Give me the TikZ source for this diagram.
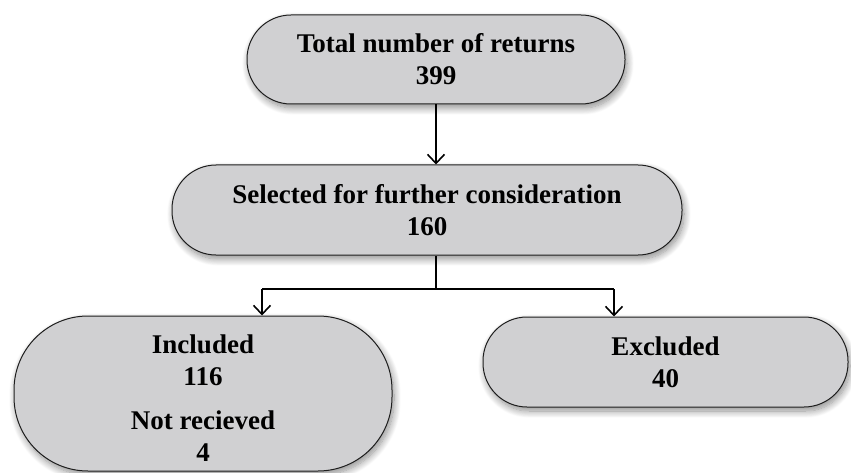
\documentclass[tikz,border=0pt]{standalone}
\usepackage{fontspec}
\setmainfont{Liberation Serif}
\usetikzlibrary{arrows.meta,shadows.blur}
\definecolor{boxfill}{RGB}{208,208,210}
\definecolor{boxline}{RGB}{30,30,30}
\tikzset{
  x=1pt,y=1pt,
  flowbox/.style={draw=boxline, line width=1pt, fill=boxfill, align=center,
    font=\fontsize{27}{32}\selectfont\bfseries, inner sep=0pt,
    blur shadow={shadow xshift=2pt, shadow yshift=-4pt, shadow blur radius=7pt, shadow opacity=45, shadow blur steps=12}},
  conn/.style={line width=1.6pt, draw=black},
  arr/.style={conn, -{Straight Barb[length=9pt,width=17pt,line width=1.6pt]}}
}
\begin{document}
\begin{tikzpicture}
\useasboundingbox (0,0) rectangle (851,472);
\node[flowbox, minimum width=378, minimum height=89, rounded corners=44] (total) at (436,412.5)
  {Total number of returns\\399};
\node[flowbox, minimum width=510, minimum height=90, rounded corners=44] (sel) at (427,262)
  {Selected for further consideration\\160};
\node[flowbox, minimum width=378, minimum height=155, rounded corners=74] (inc) at (203,78.5)
  {\raisebox{-8pt}[\height][\depth]{\begin{tabular}{@{}c@{}}Included\\116\\[12pt]Not recieved\\4\end{tabular}}};
\node[flowbox, minimum width=365, minimum height=90, rounded corners=44] (exc) at (665.5,110)
  {Excluded\\40};
\coordinate (split) at (436,183);
\coordinate (lft) at (262,183);
\coordinate (rgt) at (614,183);
\draw[arr] (total.south -| 436,0) -- (436,0 |- sel.north);
\draw[conn] (436,0 |- sel.south) -- (split);
\draw[conn] (lft) -- (rgt);
\draw[arr] (lft) -- (lft |- inc.north);
\draw[arr] (rgt) -- (rgt |- exc.north);
\end{tikzpicture}
\end{document}
